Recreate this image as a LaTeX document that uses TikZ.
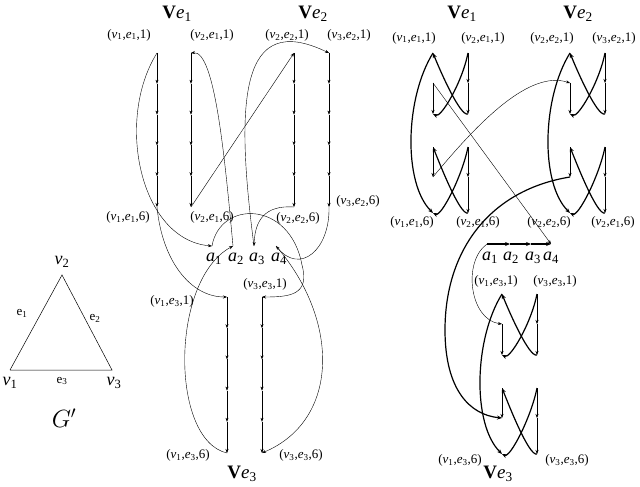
\documentclass[tikz,border=0pt]{standalone}
\usepackage{fontspec}
\setmainfont{Liberation Serif}
\usetikzlibrary{arrows.meta}
\newcommand{\mylbl}[3]{(\textit{v}\textsubscript{#1},\textit{e}\textsubscript{#2},#3)}
\newcommand{\myve}[1]{\textbf{V}\textit{e}\textsubscript{#1}}
\newcommand{\mya}[1]{\textit{a}\textsubscript{#1}}
\begin{document}
\begin{tikzpicture}[x=1pt,y=-1pt,
  lab/.style={font=\fontsize{13}{14}\selectfont,inner sep=0pt},
  alab/.style={font=\fontsize{18}{20}\selectfont,inner sep=0pt},
  big/.style={font=\fontsize{19}{21}\selectfont,inner sep=0pt},
  ar/.style={-{Stealth[length=4pt,width=3pt]},line width=0.4pt},
  thk/.style={-{Stealth[length=5pt,width=4pt]},line width=1.2pt},
  th/.style={line width=0.5pt}]
\useasboundingbox (0,0) rectangle (640,487);
% ---------- G' ----------
\coordinate (g2) at (62,275); \coordinate (g1) at (10,370); \coordinate (g3) at (112,370);
\draw[th] (g1) -- (g2) -- (g3) -- (g1);
\node[alab] (lg2) at (62,262) {\textit{v}\textsubscript{2}};
\node[alab] (lg1) at (10,383) {\textit{v}\textsubscript{1}};
\node[alab] (lg3) at (114,383) {\textit{v}\textsubscript{3}};
\node[lab] (le1) at (22,313) {e\textsubscript{1}};
\node[lab] (le2) at (95,318) {e\textsubscript{2}};
\node[lab] (le3) at (62,381) {e\textsubscript{3}};
\node[font=\fontsize{24}{26}\selectfont] (lG) at (64,418) {$G'$};
% ---------- left graph ----------
\foreach \c/\x in {A/157,B/191,C/294,D/329}{
  \foreach \k in {1,...,6}{\coordinate (\c\k) at (\x,{53+(\k-1)*30.8});}
  \foreach \k [evaluate=\k as \n using int(\k+1)] in {1,...,5}{\draw[ar] (\c\k) -- (\c\n);}
}
\foreach \c/\x in {E/227,F/262}{
  \foreach \k in {1,...,6}{\coordinate (\c\k) at (\x,{297+(\k-1)*31.2});}
  \foreach \k [evaluate=\k as \n using int(\k+1)] in {1,...,5}{\draw[ar] (\c\k) -- (\c\n);}
}
\coordinate (a1) at (212,246); \coordinate (a2) at (233,246);
\coordinate (a3) at (254,246); \coordinate (a4) at (276,246);
\node[alab] (la1) at (214,259) {\mya{1}}; \node[alab] (la2) at (236,259) {\mya{2}};
\node[alab] (la3) at (257,259) {\mya{3}}; \node[alab] (la4) at (279,259) {\mya{4}};
\node[big] (Ve1L) at (177,14) {\myve{1}};
\node[big] (Ve2L) at (313,14) {\myve{2}};
\node[big] (Ve3L) at (242,474) {\myve{3}};
\node[lab] (lA1) at (129,35) {\mylbl{1}{1}{1}};
\node[lab] (lB1) at (212,35) {\mylbl{2}{1}{1}};
\node[lab] (lC1) at (287,35) {\mylbl{2}{2}{1}};
\node[lab] (lD1) at (349,35) {\mylbl{3}{2}{1}};
\node[lab] (lA6) at (128,217) {\mylbl{1}{1}{6}};
\node[lab] (lB6) at (212,217) {\mylbl{2}{1}{6}};
\node[lab] (lC6) at (298,218) {\mylbl{2}{2}{6}};
\node[lab] (lD6) at (358,201) {\mylbl{3}{2}{6}};
\node[lab] (lE1) at (172,301) {\mylbl{1}{3}{1}};
\node[lab] (lF1) at (265,284) {\mylbl{3}{3}{1}};
\node[lab] (lE6) at (188,455) {\mylbl{1}{3}{6}};
\node[lab] (lF6) at (301,455) {\mylbl{3}{3}{6}};
\draw[ar] (A1) .. controls (115,120) and (140,240) .. (a1);
\draw[ar] (A6) .. controls (162,260) and (190,297) .. (E1);
\draw[ar] (E6) .. controls (170,440) and (170,280) .. (a2);
\draw[ar] (a2) .. controls (225,160) and (215,50) .. (B1);
\draw[ar] (B6) -- (C1);
\draw[ar] (C6) .. controls (265,205) and (255,220) .. (a3);
\draw[ar] (a3) .. controls (235,100) and (240,10) .. (D1);
\draw[ar] (a1) .. controls (220,200) and (290,200) .. (302,265) .. controls (310,295) and (290,297) .. (F1);
\draw[ar] (D6) .. controls (330,250) and (300,275) .. (a4);
\draw[ar] (a4) .. controls (340,320) and (340,420) .. (F6);
% ---------- right graph ----------
\foreach \g/\xl/\yt in {P/433/53,Q/570/53,R/502/294}{
  \pgfmathsetmacro{\xr}{\xl+35}
  \foreach \k/\o in {1/0,2/30,3/61,4/94,5/124,6/160}{
    \coordinate (\g L\k) at (\xl,\yt+\o); \coordinate (\g R\k) at (\xr,\yt+\o);}
  \draw[ar] (\g L2) -- (\g L3);
  \draw[ar] (\g R1) -- (\g R2); \draw[ar] (\g R2) -- (\g R3);
  \draw[ar] (\g L4) -- (\g L5);
  \draw[ar] (\g R4) -- (\g R5); \draw[ar] (\g R5) -- (\g R6);
  \draw[thk] (\g R3) .. controls ([xshift=-8pt,yshift=-3pt]\g R3) and ([xshift=6pt,yshift=-15pt]\g L1) .. (\g L1);
  \draw[thk] (\g R1) .. controls ([xshift=-6pt,yshift=-30pt]\g R1) and ([xshift=8pt,yshift=-4pt]\g L3) .. (\g L3);
  \draw[thk] (\g R6) .. controls ([xshift=-8pt,yshift=-3pt]\g R6) and ([xshift=6pt,yshift=-15pt]\g L4) .. (\g L4);
  \draw[thk] (\g R4) .. controls ([xshift=-6pt,yshift=-30pt]\g R4) and ([xshift=8pt,yshift=-4pt]\g L6) .. (\g L6);
  \draw[thk] (\g L1) .. controls ([xshift=-28pt,yshift=-45pt]\g L1) and ([xshift=-30pt,yshift=30pt]\g L6) .. (\g L6);
}
\coordinate (b1) at (487,244); \coordinate (b2) at (510,244);
\coordinate (b3) at (531,244); \coordinate (b4) at (551,244);
\draw[thk] (b1) -- (b2); \draw[thk] (b2) -- (b3); \draw[thk] (b3) -- (b4);
\node[alab] (lb1) at (490,258) {\mya{1}}; \node[alab] (lb2) at (511,258) {\mya{2}};
\node[alab] (lb3) at (533,258) {\mya{3}}; \node[alab] (lb4) at (551,258) {\mya{4}};
\draw[ar] (PL2) -- (b4);
\draw[ar] (PL5) .. controls (480,120) and (530,70) .. (QL2);
\draw[thk] (QL5) .. controls (490,190) and (445,250) .. (445,330) .. controls (445,390) and (470,415) .. (RL5);
\draw[ar] (b1) .. controls (462,262) and (470,320) .. (RL2);
\node[big] (Ve1R) at (462,14) {\myve{1}};
\node[big] (Ve2R) at (578,14) {\myve{2}};
\node[big] (Ve3R) at (498,474) {\myve{3}};
\node[lab] (m1) at (414,38) {\mylbl{1}{1}{1}};
\node[lab] (m2) at (483,38) {\mylbl{2}{1}{1}};
\node[lab] (m3) at (552,38) {\mylbl{2}{2}{1}};
\node[lab] (m4) at (614,38) {\mylbl{3}{2}{1}};
\node[lab] (m5) at (412,222) {\mylbl{1}{1}{6}};
\node[lab] (m6) at (478,222) {\mylbl{2}{1}{6}};
\node[lab] (m7) at (549,222) {\mylbl{2}{2}{6}};
\node[lab] (m8) at (613,222) {\mylbl{2}{1}{6}};
\node[lab] (m9) at (496,281) {\mylbl{1}{3}{1}};
\node[lab] (m10) at (555,281) {\mylbl{3}{3}{1}};
\node[lab] (m11) at (460,460) {\mylbl{1}{3}{6}};
\node[lab] (m12) at (567,460) {\mylbl{3}{3}{6}};
\end{tikzpicture}
\end{document}
